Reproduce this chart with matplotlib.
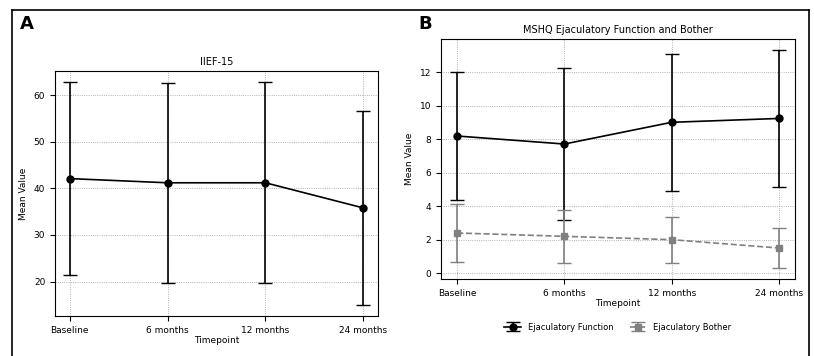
import matplotlib.pyplot as plt
from matplotlib.lines import Line2D

timepoints = ["Baseline", "6 months", "12 months", "24 months"]

# IIEF-15
iief_mean = [42.1, 41.2, 41.2, 35.8]
iief_sd = [20.7, 21.5, 21.6, 20.8]

# MSHQ
ejac_func_mean = [8.2, 7.72, 9.02, 9.25]
ejac_func_sd = [3.8, 4.56, 4.1, 4.1]
ejac_bother_mean = [2.4, 2.2, 2.0, 1.5]
ejac_bother_sd = [1.72, 1.6, 1.38, 1.2]

plt.rcParams['font.size'] = 6.5

fig = plt.figure(figsize=(8.14, 3.56), dpi=100)

# panel frame
for xs, ys in [([12, 12], [0, 346]), ([12, 809], [346, 346]), ([809, 809], [346, 0])]:
    fig.add_artist(Line2D([x / 814 for x in xs], [y / 356 for y in ys], color="black", lw=1.2))

x = list(range(len(timepoints)))

ax1 = fig.add_axes([55 / 814, 1 - 316 / 356, 323 / 814, 245 / 356])
ax1.errorbar(x, iief_mean, yerr=iief_sd, fmt="-o", color="black", capsize=5, ms=5, lw=1.2)
ax1.set_title("IIEF-15", fontsize=7, pad=4)
ax1.set_xlabel("Timepoint", labelpad=1)
ax1.set_ylabel("Mean Value")
ax1.set_xticks(x)
ax1.set_xticklabels(timepoints)
ax1.set_yticks([20, 30, 40, 50, 60])
ax1.grid(True, linestyle=":", color="#999999", lw=0.6)

ax2 = fig.add_axes([441 / 814, 1 - 279 / 356, 354 / 814, 240 / 356])
ax2.errorbar(x, ejac_func_mean, yerr=ejac_func_sd, fmt="-o", color="black", capsize=5, ms=5, lw=1.2,
             label="Ejaculatory Function")
ax2.errorbar(x, ejac_bother_mean, yerr=ejac_bother_sd, fmt="--s", color="gray", capsize=5, ms=5, lw=1.2,
             label="Ejaculatory Bother")
ax2.set_title("MSHQ Ejaculatory Function and Bother", fontsize=7, pad=4)
ax2.set_xlabel("Timepoint", labelpad=1)
ax2.set_ylabel("Mean Value")
ax2.set_xticks(x)
ax2.set_xticklabels(timepoints)
ax2.set_yticks([0, 2, 4, 6, 8, 10, 12])
ax2.grid(True, linestyle=":", color="#999999", lw=0.6)
ax2.legend(loc="center", bbox_to_anchor=(0.5, -0.2), ncol=2, frameon=False, fontsize=6)

fig.text(20 / 814, 1 - 24 / 356, "A", fontsize=13, fontweight="black", va="center", family="DejaVu Sans")
fig.text(418 / 814, 1 - 24 / 356, "B", fontsize=13, fontweight="black", va="center", family="DejaVu Sans")

fig.savefig("out.png", dpi=100)
